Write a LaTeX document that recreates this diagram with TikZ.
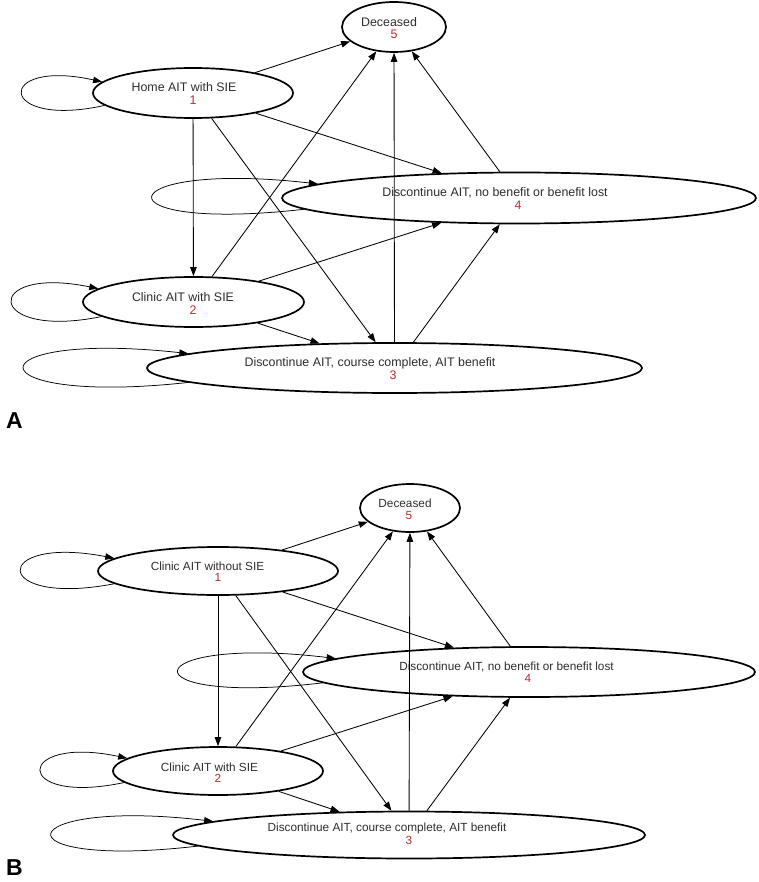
\documentclass[tikz,border=0pt]{standalone}
\usepackage{fontspec}
\setmainfont{Liberation Sans}
\usetikzlibrary{shapes.geometric,arrows.meta,calc}
\definecolor{numred}{RGB}{185,45,45}
\definecolor{txtgray}{RGB}{45,45,45}
\begin{document}
\begin{tikzpicture}[x=1pt,y=-1pt,
  st/.style={ellipse,draw,line width=1.7pt,inner sep=0pt,minimum height=50pt},
  laba/.style={font=\fontsize{12.4}{14}\selectfont,text=txtgray,inner sep=0pt},
  labb/.style={font=\fontsize{11.8}{14}\selectfont,text=txtgray,inner sep=0pt},
  numa/.style={laba,text=numred},
  numb/.style={labb,text=numred},
  edge/.style={-{Triangle[length=9pt,width=6.5pt]},line width=0.85pt},
  selfedge/.style={-{Triangle[length=9pt,width=6.5pt]},line width=0.75pt},
  panel/.style={font=\fontsize{23}{26}\selectfont\bfseries,inner sep=0pt,anchor=base west}]
\useasboundingbox (0,0) rectangle (759,882);

% ---------------- Panel A ----------------
\node[st,minimum width=104pt] (a5) at (394,27) {};
\node[st,minimum width=200pt] (a1) at (193,93) {};
\node[st,minimum width=474pt,minimum height=51pt] (a4) at (519,198) {};
\node[st,minimum width=221pt] (a2) at (193.5,302) {};
\node[st,minimum width=495pt] (a3) at (394.5,368) {};

\node[laba] (a5t) at (389,22) {Deceased};
\node[numa] (a5n) at (394,34) {5};
\node[laba] (a1t) at (184,87) {Home AIT with SIE};
\node[numa] (a1n) at (193,100) {1};
\node[laba] (a4t) at (495,193) {Discontinue AIT, no benefit or benefit lost};
\node[numa] (a4n) at (518,205) {4};
\node[laba] (a2t) at (183,297) {Clinic AIT with SIE};
\node[numa] (a2n) at (193,310) {2};
\node[laba] (a3t) at (370,363) {Discontinue AIT, course complete, AIT benefit};
\node[numa] (a3n) at (393,375) {3};

\node[panel] (pa) at (6,428) {A};

\draw[edge] (a1) -- (a5);
\draw[edge] (a1) -- (a4);
\draw[edge] (a1) -- (a2);
\draw[edge] (a1) -- (a3);
\draw[edge] (a2) -- (a5);
\draw[edge] (a2) -- (a4);
\draw[edge] (a2) -- (a3);
\draw[edge] (a3) -- (a5);
\draw[edge] (a3) -- (a4);
\draw[edge] (a4) -- (a5);

\draw[selfedge] (a1.188.8) .. controls +(-108,24) and +(-108,-24) .. (a1.173.1);
\draw[selfedge] (a4.183.9) .. controls +(-211,24) and +(-211,-24) .. (a4.176.2);
\draw[selfedge] (a2.189.3) .. controls +(-117,24) and +(-117,-24) .. (a2.172.1);
\draw[selfedge] (a3.184.0) .. controls +(-219,24) and +(-219,-24) .. (a3.176.3);

% ---------------- Panel B ----------------
\node[st,minimum width=100pt,minimum height=48pt] (b5) at (410,508) {};
\node[st,minimum width=240pt,minimum height=48pt] (b1) at (218,571) {};
\node[st,minimum width=452pt] (b4) at (529,672) {};
\node[st,minimum width=210pt,minimum height=48pt] (b2) at (218,771) {};
\node[st,minimum width=472pt,minimum height=47pt] (b3) at (409,835) {};

\node[labb] (b5t) at (405,503) {Deceased};
\node[numb] (b5n) at (409,515) {5};
\node[labb] (b1t) at (207.5,566) {Clinic AIT without SIE};
\node[numb] (b1n) at (218,577) {1};
\node[labb] (b4t) at (506.5,667) {Discontinue AIT, no benefit or benefit lost};
\node[numb] (b4n) at (528,678) {4};
\node[labb] (b2t) at (209.5,767) {Clinic AIT with SIE};
\node[numb] (b2n) at (218,778) {2};
\node[labb] (b3t) at (387,828) {Discontinue AIT, course complete, AIT benefit};
\node[numb] (b3n) at (409,840) {3};

\node[panel] (pb) at (6,875) {B};

\draw[edge] (b1) -- (b5);
\draw[edge] (b1) -- (b4);
\draw[edge] (b1) -- (b2);
\draw[edge] (b1) -- (b3);
\draw[edge] (b2) -- (b5);
\draw[edge] (b2) -- (b4);
\draw[edge] (b2) -- (b3);
\draw[edge] (b3) -- (b5);
\draw[edge] (b3) -- (b4);
\draw[edge] (b4) -- (b5);

\draw[selfedge] (b1.187.0) .. controls +(-124,24) and +(-124,-24) .. (b1.173.1);
\draw[selfedge] (b4.183.8) .. controls +(-201,24) and +(-201,-24) .. (b4.176.0);
\draw[selfedge] (b2.187.4) .. controls +(-113,24) and +(-113,-24) .. (b2.172.8);
\draw[selfedge] (b3.183.9) .. controls +(-205,24) and +(-205,-24) .. (b3.176.4);
\end{tikzpicture}
\end{document}
